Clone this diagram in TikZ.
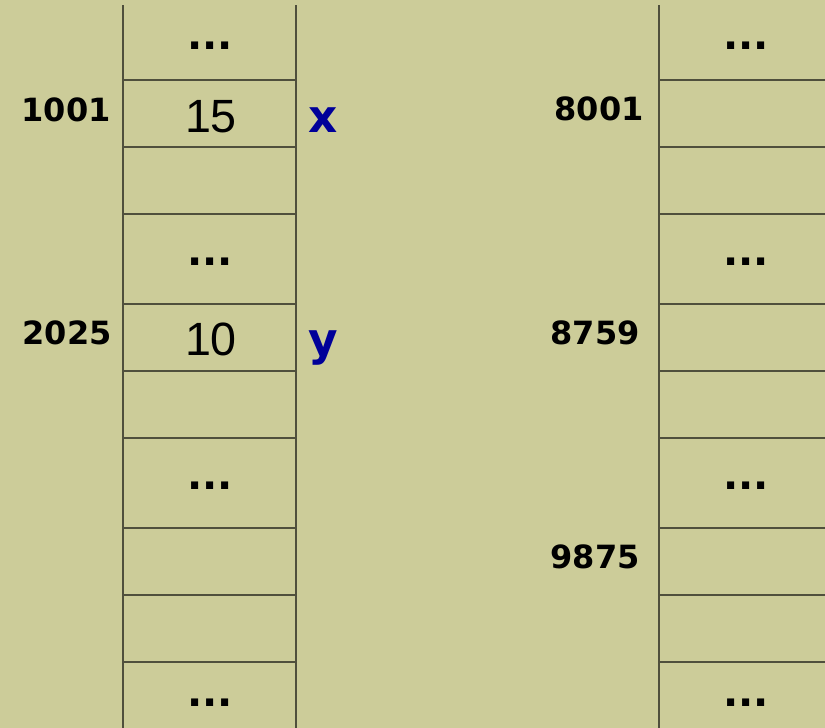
\documentclass[tikz,border=0pt]{standalone}
\usepackage{fontspec}
\setmainfont{DejaVu Sans}
\newfontfamily\valfont{Liberation Sans}
\usepackage{xcolor}
\definecolor{khaki}{HTML}{CCCC99}
\definecolor{gridgray}{HTML}{4F4F3C}
\definecolor{varblue}{HTML}{000099}

\begin{document}
\begin{tikzpicture}[x=0.75pt,y=-0.75pt,
  cellline/.style={gridgray,line width=0.9pt},
  addr/.style={anchor=base east,inner sep=0pt,font=\bfseries\fontsize{24}{24}\selectfont},
  dots/.style={anchor=base,inner sep=0pt,font=\bfseries\fontsize{30}{30}\selectfont},
  val/.style={anchor=base,inner sep=0pt,font=\valfont\fontsize{35}{35}\selectfont},
  var/.style={anchor=base,inner sep=0pt,varblue,font=\bfseries\fontsize{34}{34}\selectfont}]
  \fill[khaki] (0,0) rectangle (825,728);
  \useasboundingbox (0,0) rectangle (825,728);
  % memory columns
  \draw[cellline] (123,5)--(123,728);
  \draw[cellline] (296,5)--(296,728);
  \draw[cellline] (659,5)--(659,728);
  \foreach \y in {80,147,214,304,371,438,528,595,662}{
    \draw[cellline] (123,\y)--(296,\y);
    \draw[cellline] (659,\y)--(825,\y);
  }
  % skipped cells
  \foreach \y/\n in {49/1,265/2,489/3,706/4}{
    \node[dots] (dotsL\n) at (210,\y) {...};
    \node[dots] (dotsR\n) at (746,\y) {...};
  }
  % stored values and variable names
  \node[val] (valx) at (211,132) {15};
  \node[val] (valy) at (211,355) {10};
  \node[var] (varx) at (323,132) {x};
  \node[var] (vary) at (323,355) {y};
  % addresses
  \node[addr] (a1001) at (111,121) {1001};
  \node[addr] (a2025) at (112,344) {2025};
  \node[addr] (a8001) at (644,120) {8001};
  \node[addr] (a8759) at (640,344) {8759};
  \node[addr] (a9875) at (640,568) {9875};
\end{tikzpicture}
\end{document}
